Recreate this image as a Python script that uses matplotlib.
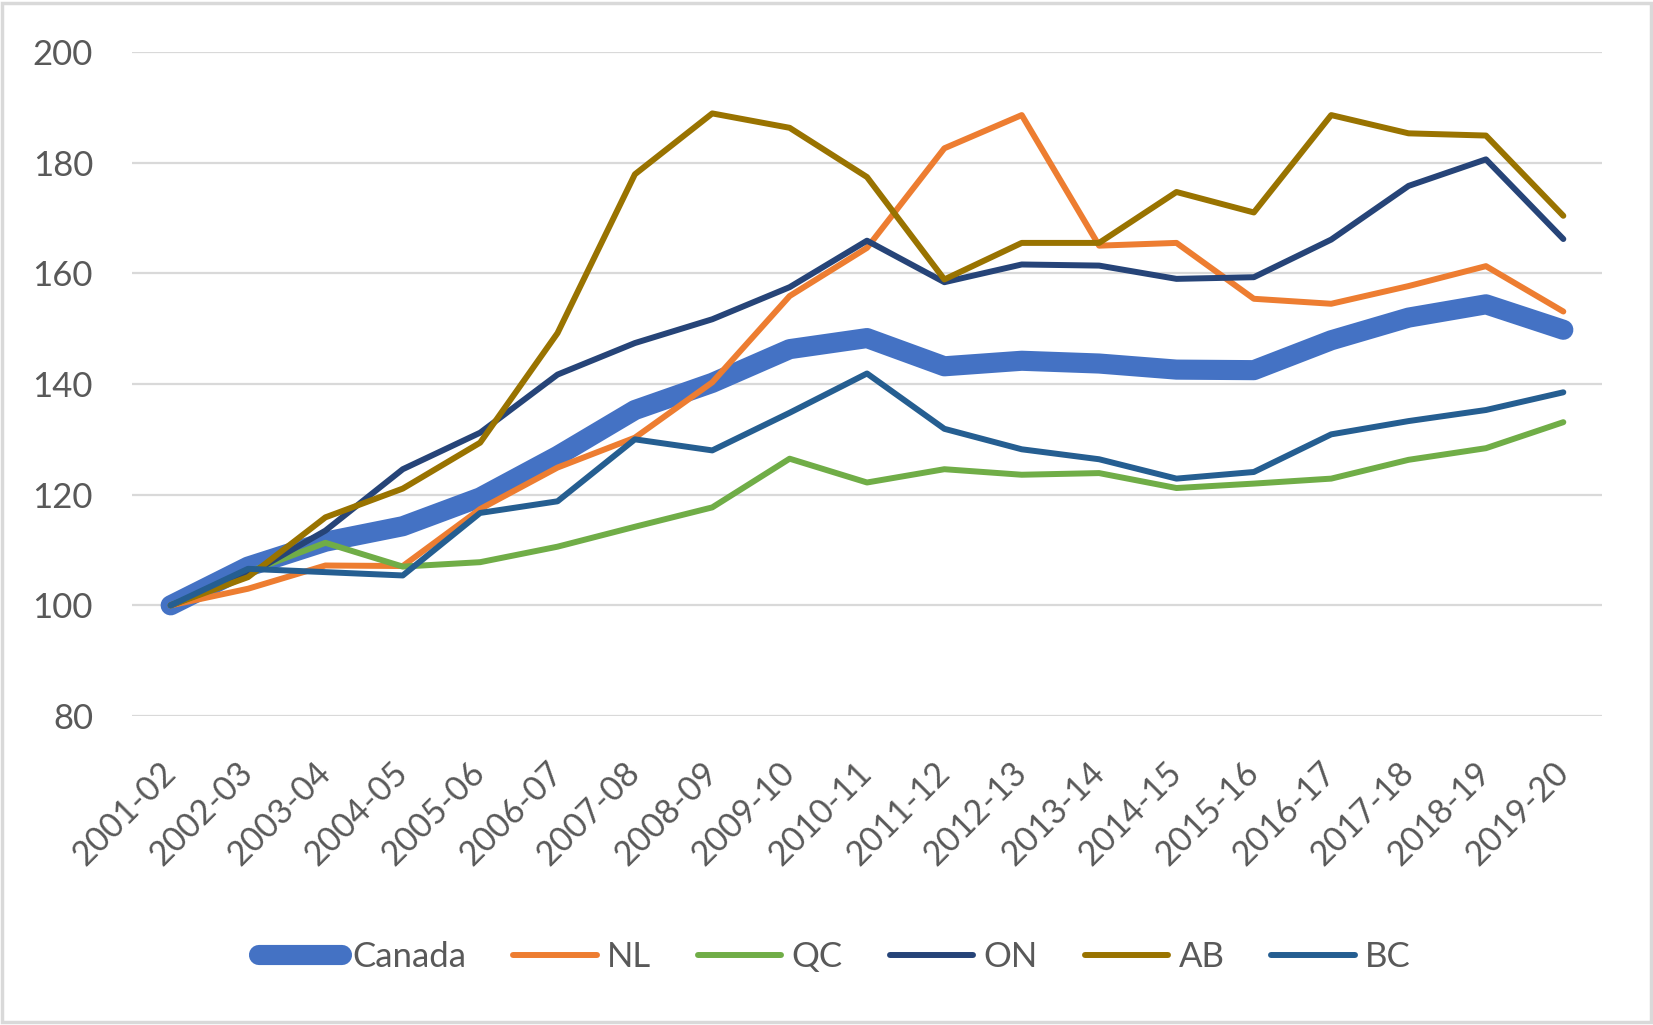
import matplotlib
matplotlib.use("Agg")
import matplotlib.pyplot as plt
from matplotlib.patches import Rectangle

years = ["2001-02", "2002-03", "2003-04", "2004-05", "2005-06", "2006-07", "2007-08",
         "2008-09", "2009-10", "2010-11", "2011-12", "2012-13", "2013-14", "2014-15",
         "2015-16", "2016-17", "2017-18", "2018-19", "2019-20"]

canada = [100, 107, 111.5, 114.3, 119.5, 127, 135.3, 140.2, 146.3, 148.3, 143.2, 144.2,
          143.7, 142.6, 142.5, 147.9, 152, 154.4, 149.8]
nl = [100, 103, 107.2, 107.1, 117.4, 124.9, 130.3, 140.3, 155.9, 164.6, 182.6, 188.6,
      165.0, 165.5, 155.4, 154.5, 157.7, 161.3, 153.1]
qc = [100, 106, 111.3, 107.0, 107.8, 110.6, 114.2, 117.7, 126.5, 122.2, 124.6, 123.6,
      123.9, 121.2, 122.0, 122.9, 126.3, 128.4, 133.1]
on = [100, 105.5, 113.5, 124.6, 131.2, 141.7, 147.4, 151.7, 157.5, 165.9, 158.4, 161.6,
      161.4, 159.0, 159.3, 166.1, 175.8, 180.6, 166.2]
ab = [100, 105.1, 115.9, 121.1, 129.4, 149.2, 177.9, 188.9, 186.3, 177.4, 158.9, 165.5,
      165.5, 174.7, 171.0, 188.6, 185.3, 184.9, 170.4]
bc = [100, 106.6, 106.0, 105.4, 116.7, 118.8, 130.0, 128.0, 134.8, 141.9, 131.9, 128.2,
      126.4, 122.9, 124.1, 130.9, 133.3, 135.3, 138.5]

series_names = ["Canada", "NL", "QC", "ON", "AB", "BC"]
series_values = [canada, nl, qc, on, ab, bc]
colors = ["#4472C4", "#ED7D31", "#70AD47", "#264478", "#997300", "#255E91"]
widths = [14.5, 4.3, 4.3, 4.3, 4.3, 4.3]

yticks = [80, 100, 120, 140, 160, 180, 200]

plt.rcParams['font.family'] = ['Lato', 'DejaVu Sans']
text_color = "#595959"
FS = 25

W, H = 1653, 1025
fig = plt.figure(figsize=(W / 100, H / 100), dpi=100)
left, right = 132 / W, 1602 / W
bottom, top = 1 - 716 / H, 1 - 52 / H
ax = fig.add_axes([left, bottom, right - left, top - bottom])

x = list(range(len(years)))
for name, vals, c, lw in zip(series_names, series_values, colors, widths):
    ax.plot(x, vals, color=c, lw=lw, label=name, solid_capstyle='round',
            solid_joinstyle='round')

ax.set_xlim(-0.5, len(years) - 0.5)
ax.set_ylim(80, 200)
ax.set_yticks(yticks)
ax.set_xticks(x)
ax.set_xticklabels(years, rotation=45, ha='right', va='center', rotation_mode='anchor')
for s in ax.spines.values():
    s.set_visible(False)
ax.grid(axis='y', color='#D9D9D9', lw=1.6)
ax.set_axisbelow(True)
ax.tick_params(axis='y', length=0, pad=28, labelsize=FS, labelcolor=text_color)
ax.tick_params(axis='x', length=0, pad=37, labelsize=24.5, labelcolor=text_color)

leg = fig.legend(loc='center', bbox_to_anchor=(0.505, 1 - 957 / H), ncol=6, frameon=False,
                 fontsize=FS, handlelength=2.4, handletextpad=0.3, columnspacing=1.35)
for t in leg.get_texts():
    t.set_color(text_color)
for h in leg.get_lines():
    h.set_solid_capstyle('round')

fig.patches.append(Rectangle((0.0015, 0.0025), 0.997, 0.995, transform=fig.transFigure,
                             fill=False, edgecolor='#D9D9D9', lw=2.5))

fig.savefig("out.png", dpi=100)
